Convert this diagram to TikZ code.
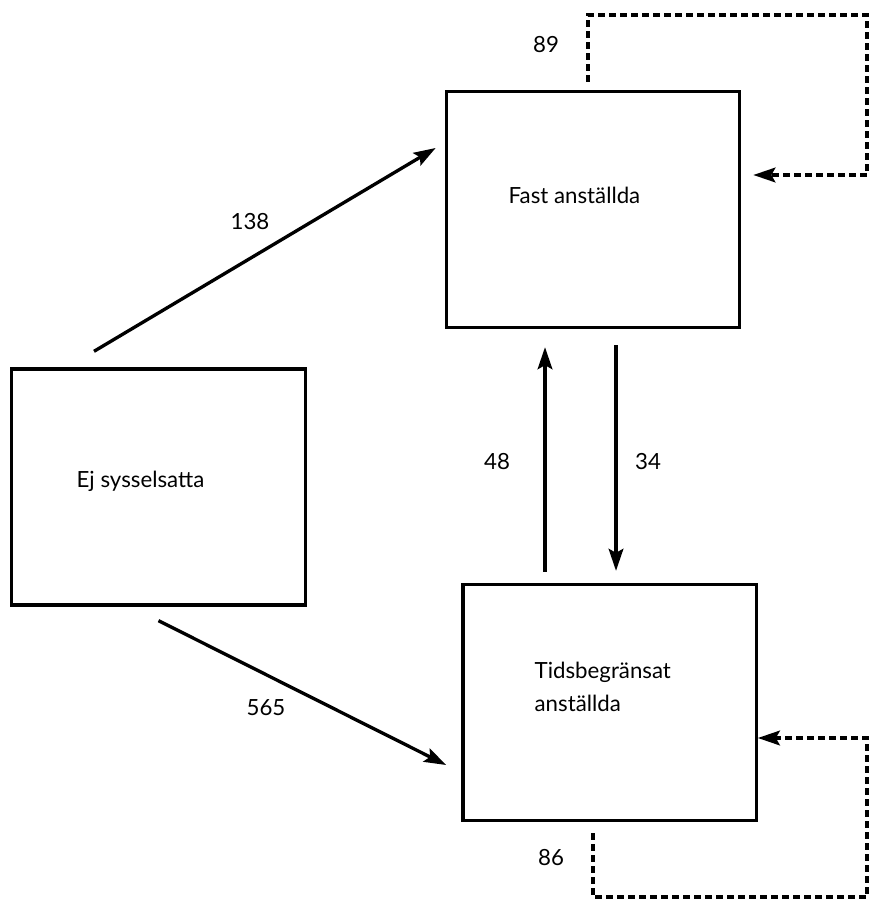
\documentclass[tikz,border=0pt]{standalone}
\usepackage{fontspec}
\setmainfont{Lato}
\usetikzlibrary{arrows.meta}

\begin{document}
\begin{tikzpicture}[x=0.03cm, y=-0.03cm, line width=0.1cm,
    >={Stealth[length=0.66cm, width=0.44cm, inset=0.12cm]},
    box/.style={draw, rectangle, minimum width=8.8cm, minimum height=7.08cm, inner sep=0pt},
    txt/.style={font=\fontsize{19}{27.9}\selectfont, inner sep=0pt},
    loopline/.style={dash pattern=on 0.21cm off 0.12cm}]
\useasboundingbox (0,0) rectangle (869,899);

\node[box] (fast) at (593,209.5) {};
\node[box] (ej) at (158.5,487) {};
\node[box] (tids) at (609.5,702.5) {};

\node[txt, anchor=base west] (fasttxt) at (507,203) {Fast anställda};
\node[txt, anchor=base west] (ejtxt) at (75,487) {Ej sysselsatta};
\node[txt, anchor=base west, align=left] (tidstxt) at (533,711) {Tidsbegränsat\\anställda};

\coordinate (topright) at (867,15);
\coordinate (botright) at (867,897);

\draw[->] ([shift={(-64.5,-16)}]ej.north) -- ([shift={(-9,-61.5)}]fast.west);
\draw[->] ([shift={(0,14)}]ej.south) -- ([shift={(-15,62.5)}]tids.west);
\draw[->] ([shift={(-64.5,-11)}]tids.north) -- ([shift={(-48,18)}]fast.south);
\draw[->] ([shift={(23,16)}]fast.south) -- ([shift={(6.5,-12)}]tids.north);
\draw[loopline, ->] ([shift={(-5,-8)}]fast.north) |- (topright) |- ([shift={(12,-34.5)}]fast.east);
\draw[loopline, ->] ([shift={(-16.5,11)}]tids.south) |- (botright) |- ([shift={(0,35.5)}]tids.east);

\node[txt] (n138) at (250,222) {138};
\node[txt] (n565) at (266,708) {565};
\node[txt] (n48) at (497,462) {48};
\node[txt] (n34) at (648,462) {34};
\node[txt] (n89) at (546,45) {89};
\node[txt] (n86) at (551,858) {86};
\end{tikzpicture}
\end{document}
